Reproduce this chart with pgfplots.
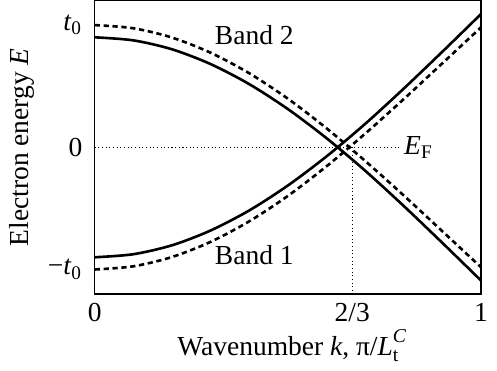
\documentclass[border=0pt]{standalone}
\usepackage{fontspec}
\setmainfont{Liberation Serif}
\usepackage{pgfplots}
\pgfplotsset{compat=1.18}
\pgfplotstableread{
k    s2      d2
0.0  0.900   1.000
0.1  0.875   0.974
0.2  0.802   0.898
0.3  0.681   0.774
0.4  0.517   0.606
0.5  0.313   0.398
0.6  0.075   0.156
0.7  -0.191  -0.111
0.8  -0.480  -0.394
0.9  -0.782  -0.687
1.0  -1.090  -0.981
}\bands
\pgfplotstableread{
k    s1      d1
0.0  -0.900  -1.000
0.1  -0.875  -0.974
0.2  -0.802  -0.898
0.3  -0.681  -0.774
0.4  -0.517  -0.606
0.5  -0.313  -0.398
0.6  -0.075  -0.156
0.7  0.191   0.111
0.8  0.480   0.394
0.9  0.782   0.687
1.0  1.090   0.981
}\bandone
\newcommand{\LtC}{\textit{L}\rlap{\raisebox{0.5em}{\fontsize{7.5bp}{8bp}\selectfont\textit{C}}}\raisebox{-0.2em}{\fontsize{7.5bp}{8bp}\selectfont t}}
\begin{document}
\fontsize{10.5bp}{12.6bp}\selectfont
\begin{tikzpicture}
\begin{axis}[
  scale only axis,
  width=147.5bp, height=112bp,
  xmin=0, xmax=1, ymin=-1.2, ymax=1.2,
  axis line style={line width=0.5bp},
  xtick={0,0.6667,1},
  xticklabels={0,2/3,1},
  ytick={-1,0,1},
  yticklabels={−\textit{t}\textsubscript{0},0,\textit{t}\textsubscript{0}},
  major tick length=0pt,
  tick label style={font=\fontsize{10.5bp}{12.6bp}\selectfont},
  yticklabel style={xshift=-1bp},
  label style={font=\fontsize{10.5bp}{12.6bp}\selectfont},
  xlabel={Wavenumber \textit{k}, π/\LtC},
  ylabel={Electron energy \textit{E}},
  xlabel style={yshift=4.5bp},
  ylabel style={yshift=-2bp},
  clip=false,
]
\addplot[densely dotted, line width=0.4bp] coordinates {(0,0) (0.786,0)};
\addplot[densely dotted, line width=0.4bp] coordinates {(0.6667,0) (0.6667,-1.2)};
\addplot[smooth, line width=1bp] table[x=k, y=s2] {\bands};
\addplot[smooth, line width=1bp, dash pattern=on 2bp off 1.4bp] table[x=k, y=d2] {\bands};
\addplot[smooth, line width=1bp] table[x=k, y=s1] {\bandone};
\addplot[smooth, line width=1bp, dash pattern=on 2bp off 1.4bp] table[x=k, y=d1] {\bandone};
\node[anchor=west, inner sep=0pt] at (axis cs:0.31,0.918) {Band 2};
\node[anchor=west, inner sep=0pt] at (axis cs:0.31,-0.885) {Band 1};
\node[anchor=west, inner sep=0pt] at (axis cs:0.8,0) {\textit{E}\textsubscript{F}};
\end{axis}
\end{tikzpicture}
\end{document}
